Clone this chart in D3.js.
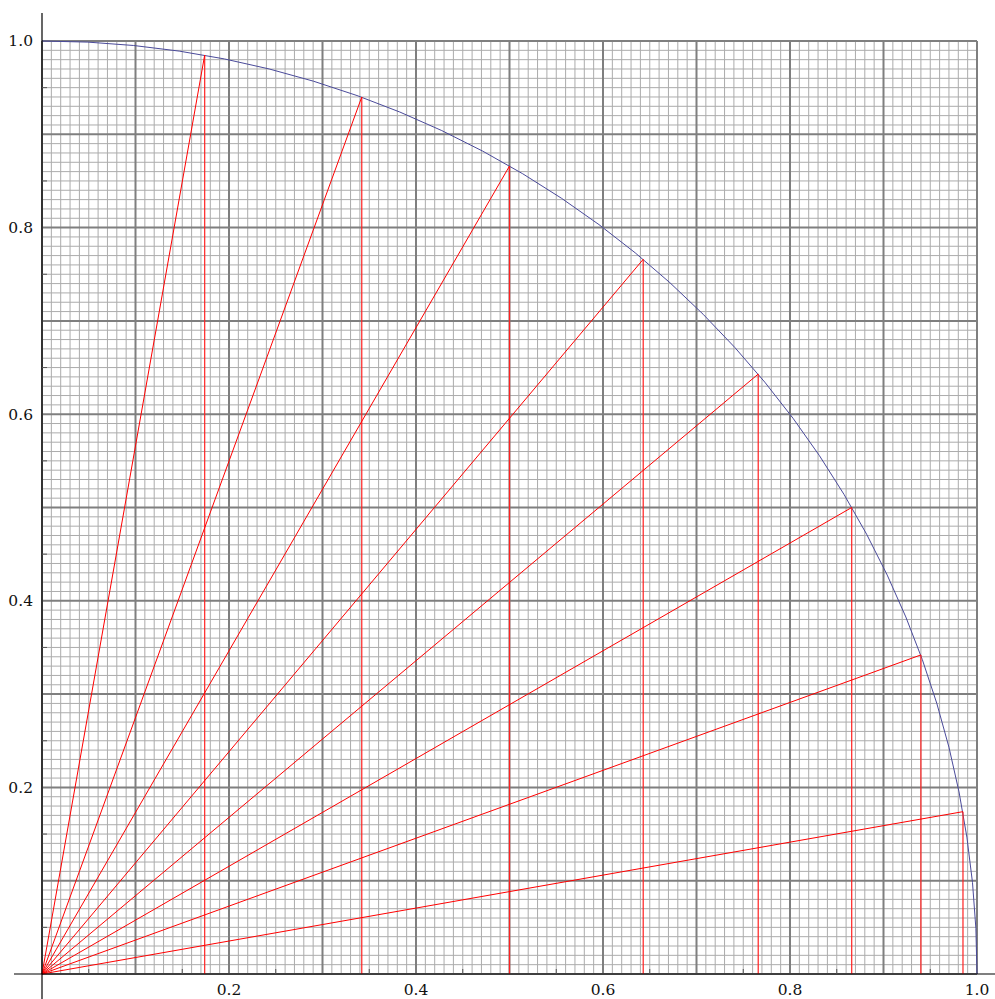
<!DOCTYPE html>
<html>
<head>
<meta charset="utf-8">
<script src="https://cdn.jsdelivr.net/npm/d3@7"></script>
<style>
  body { margin: 0; background: #fff; }
  svg { display: block; }
</style>
</head>
<body>
<script>
// points on the unit circle where the red rays end (every 10 degrees)
var pointX = [0.985, 0.940, 0.866, 0.766, 0.643, 0.500, 0.342, 0.174];
var pointY = [0.174, 0.342, 0.500, 0.643, 0.766, 0.866, 0.940, 0.985];
var tickLabels = ["0.2", "0.4", "0.6", "0.8", "1.0"];
var tickValues = [0.2, 0.4, 0.6, 0.8, 1.0];

var W = 995, H = 999;
var svg = d3.select("body").append("svg")
    .attr("width", W)
    .attr("height", H);

var x = d3.scaleLinear().domain([0, 1]).range([42, 977]);
var y = d3.scaleLinear().domain([0, 1]).range([974, 41]);

// minor grid
var minor = d3.range(1, 100).filter(function(i) { return i % 10 != 0; }).map(function(i) { return i / 100; });
var major = d3.range(0, 11).map(function(i) { return i / 10; });

var grid = svg.append("g");
grid.selectAll(".vminor").data(minor).enter().append("line")
    .attr("x1", function(d) { return x(d); }).attr("x2", function(d) { return x(d); })
    .attr("y1", y(0)).attr("y2", y(1))
    .attr("stroke", "#acacac").attr("stroke-width", 1);
grid.selectAll(".hminor").data(minor).enter().append("line")
    .attr("y1", function(d) { return y(d); }).attr("y2", function(d) { return y(d); })
    .attr("x1", x(0)).attr("x2", x(1))
    .attr("stroke", "#acacac").attr("stroke-width", 1);
grid.selectAll(".vmajor").data(major).enter().append("line")
    .attr("x1", function(d) { return x(d); }).attr("x2", function(d) { return x(d); })
    .attr("y1", y(0)).attr("y2", y(1))
    .attr("stroke", "#7f7f7f").attr("stroke-width", 2);
grid.selectAll(".hmajor").data(major).enter().append("line")
    .attr("y1", function(d) { return y(d); }).attr("y2", function(d) { return y(d); })
    .attr("x1", x(0)).attr("x2", x(1))
    .attr("stroke", "#7f7f7f").attr("stroke-width", 2);

// quarter circle
var rx = x(1) - x(0), ry = y(0) - y(1);
svg.append("path")
    .attr("d", "M" + x(0) + "," + y(1) + " A" + rx + "," + ry + " 0 0 1 " + x(1) + "," + y(0))
    .attr("fill", "none")
    .attr("stroke", "#4a4a9a")
    .attr("stroke-width", 1);

// red rays and drop lines
var pts = pointX.map(function(d, i) { return [d, pointY[i]]; });
svg.selectAll(".drop").data(pts).enter().append("line")
    .attr("x1", function(d) { return x(d[0]); }).attr("x2", function(d) { return x(d[0]); })
    .attr("y1", function(d) { return y(d[1]); }).attr("y2", y(0))
    .attr("stroke", "#ff2020").attr("stroke-width", 1.2);
svg.selectAll(".ray").data(pts).enter().append("line")
    .attr("x1", x(0)).attr("y1", y(0))
    .attr("x2", function(d) { return x(d[0]); }).attr("y2", function(d) { return y(d[1]); })
    .attr("stroke", "#ff0000").attr("stroke-width", 1);

// axes
svg.append("line").attr("x1", 14).attr("x2", 995).attr("y1", y(0)).attr("y2", y(0))
    .attr("stroke", "#000").attr("stroke-width", 1.2);
svg.append("line").attr("x1", x(0)).attr("x2", x(0)).attr("y1", 13).attr("y2", 999)
    .attr("stroke", "#000").attr("stroke-width", 1.2);

// small ticks at the halves
var halves = [0.05, 0.15, 0.25, 0.35, 0.45, 0.55, 0.65, 0.75, 0.85, 0.95];
svg.selectAll(".xt").data(halves).enter().append("line")
    .attr("x1", function(d) { return x(d); }).attr("x2", function(d) { return x(d); })
    .attr("y1", y(0)).attr("y2", y(0) - 5)
    .attr("stroke", "#555").attr("stroke-width", 1);
svg.selectAll(".yt").data(halves).enter().append("line")
    .attr("y1", function(d) { return y(d); }).attr("y2", function(d) { return y(d); })
    .attr("x1", x(0)).attr("x2", x(0) + 5)
    .attr("stroke", "#555").attr("stroke-width", 1);

// tick labels
var serif = "'DejaVu Serif', serif";
svg.selectAll(".xl").data(tickValues).enter().append("text")
    .attr("font-family", serif)
    .attr("font-size", 15.5)
    .attr("fill", "#111")
    .attr("x", function(d) { return x(d); })
    .attr("y", y(0) + 21)
    .attr("text-anchor", "middle")
    .text(function(d, i) { return tickLabels[i]; });
svg.selectAll(".yl").data(tickValues).enter().append("text")
    .attr("font-family", serif)
    .attr("font-size", 15.5)
    .attr("fill", "#111")
    .attr("x", x(0) - 9)
    .attr("y", function(d) { return y(d); })
    .attr("dy", "0.35em")
    .attr("text-anchor", "end")
    .text(function(d, i) { return tickLabels[i]; });
</script>
</body>
</html>
